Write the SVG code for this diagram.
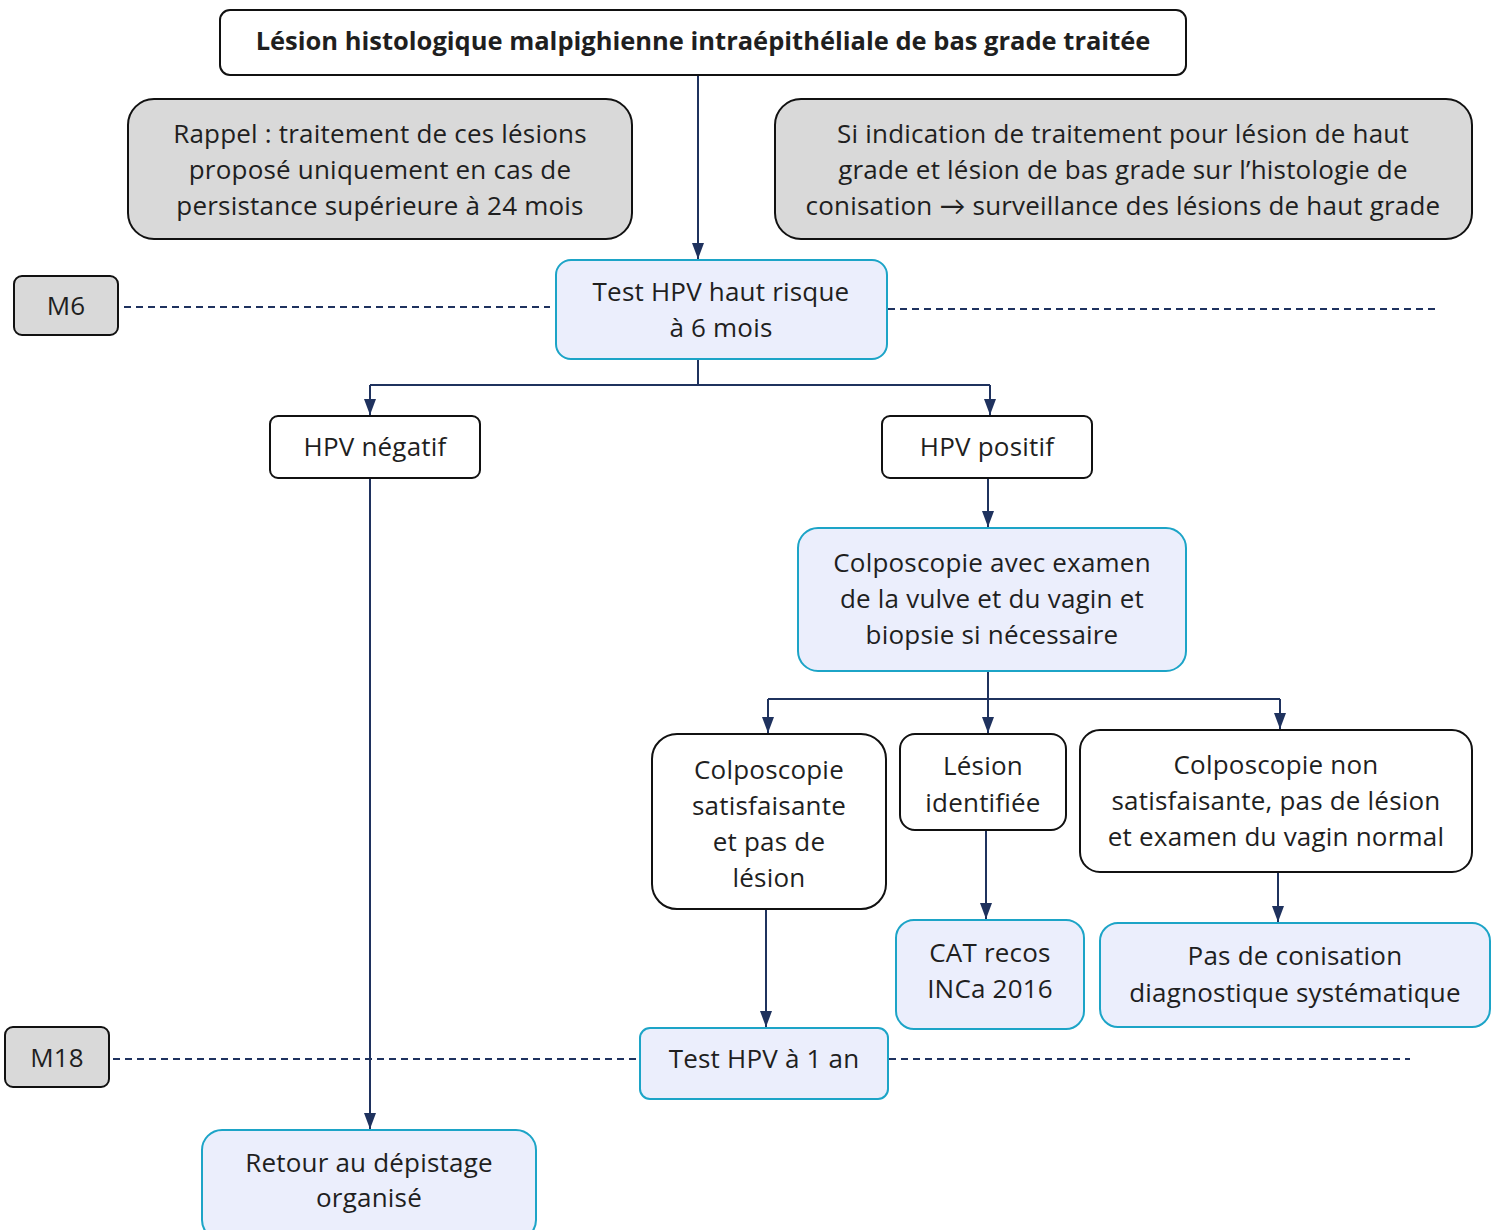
<svg xmlns="http://www.w3.org/2000/svg" width="1502" height="1230" viewBox="0 0 1502 1230">
  <defs>
    <marker id="arrow" viewBox="0 0 16 12" refX="16" refY="6" markerWidth="16" markerHeight="12" markerUnits="userSpaceOnUse" orient="auto">
      <path d="M0,0 L16,6 L0,12 z" fill="#1f325e"/>
    </marker>
    <style>
      text { font-family: "Open Sans", "Liberation Sans", sans-serif; font-size: 26px; letter-spacing: 0.2px; fill: #1f1f1f; text-anchor: middle; dominant-baseline: central; }
      .title { font-weight: 700; font-size: 25.5px; letter-spacing: 0; }
      .sym { font-family: "Lato", "DejaVu Sans", sans-serif; }
      .plain { fill: #ffffff; stroke: #111111; stroke-width: 2; }
      .note { fill: #d9d9d9; stroke: #111111; stroke-width: 2; }
      .step { fill: #ebeefc; stroke: #1ca4c7; stroke-width: 2; }
      .link { fill: none; stroke: #1f325e; stroke-width: 2; }
      .arr { marker-end: url(#arrow); }
      .dash { fill: none; stroke: #1f325e; stroke-width: 2; stroke-dasharray: 7 5; }
    </style>
  </defs>
  <rect width="1502" height="1230" fill="#ffffff"/>

  <g id="connectors">
    <line class="dash" x1="124" y1="307" x2="550" y2="307"/>
    <line class="dash" x1="888" y1="309" x2="1440" y2="309"/>
    <line class="dash" x1="113" y1="1059" x2="640" y2="1059"/>
    <line class="dash" x1="889" y1="1059" x2="1410" y2="1059"/>
    <line class="link arr" x1="698" y1="75" x2="698" y2="259"/>
    <path class="link" d="M698,359 V385 M370,385 H990"/>
    <line class="link arr" x1="370" y1="385" x2="370" y2="415"/>
    <line class="link arr" x1="990" y1="385" x2="990" y2="415"/>
    <line class="link arr" x1="988" y1="478" x2="988" y2="527"/>
    <path class="link" d="M988,671 V699 M768,699 H1280"/>
    <line class="link arr" x1="768" y1="699" x2="768" y2="733"/>
    <line class="link arr" x1="988" y1="699" x2="988" y2="733"/>
    <line class="link arr" x1="1280" y1="699" x2="1280" y2="729"/>
    <line class="link arr" x1="986" y1="830" x2="986" y2="919"/>
    <line class="link arr" x1="1278" y1="870" x2="1278" y2="922"/>
    <line class="link arr" x1="766" y1="909" x2="766" y2="1027"/>
    <line class="link arr" x1="370" y1="478" x2="370" y2="1129"/>
  </g>

  <g id="title">
    <rect class="plain" x="220" y="10" width="966" height="65" rx="10"/>
    <text class="title" x="703" y="40">Lésion histologique malpighienne intraépithéliale de bas grade traitée</text>
  </g>

  <g id="rappel">
    <rect class="note" x="128" y="99" width="504" height="140" rx="26"/>
    <text x="380" y="133">Rappel : traitement de ces lésions</text>
    <text x="380" y="169">proposé uniquement en cas de</text>
    <text x="380" y="205">persistance supérieure à 24 mois</text>
  </g>

  <g id="indication">
    <rect class="note" x="775" y="99" width="697" height="140" rx="26"/>
    <text x="1123" y="133">Si indication de traitement pour lésion de haut</text>
    <text x="1123" y="169">grade et lésion de bas grade sur l’histologie de</text>
    <text x="1123" y="205">conisation <tspan class="sym">→</tspan> surveillance des lésions de haut grade</text>
  </g>

  <g id="m6">
    <rect class="note" x="14" y="276" width="104" height="59" rx="8"/>
    <text x="66" y="305">M6</text>
  </g>

  <g id="test-6-mois">
    <rect class="step" x="556" y="260" width="331" height="99" rx="15"/>
    <text x="721" y="291">Test HPV haut risque</text>
    <text x="721" y="327">à 6 mois</text>
  </g>

  <g id="hpv-negatif">
    <rect class="plain" x="270" y="416" width="210" height="62" rx="8"/>
    <text x="375" y="446">HPV négatif</text>
  </g>

  <g id="hpv-positif">
    <rect class="plain" x="882" y="416" width="210" height="62" rx="8"/>
    <text x="987" y="446">HPV positif</text>
  </g>

  <g id="colposcopie">
    <rect class="step" x="798" y="528" width="388" height="143" rx="20"/>
    <text x="992" y="562">Colposcopie avec examen</text>
    <text x="992" y="598">de la vulve et du vagin et</text>
    <text x="992" y="634">biopsie si nécessaire</text>
  </g>

  <g id="colpo-satisfaisante">
    <rect class="plain" x="652" y="734" width="234" height="175" rx="25"/>
    <text x="769" y="769">Colposcopie</text>
    <text x="769" y="805">satisfaisante</text>
    <text x="769" y="841">et pas de</text>
    <text x="769" y="877">lésion</text>
  </g>

  <g id="lesion-identifiee">
    <rect class="plain" x="900" y="734" width="166" height="96" rx="15"/>
    <text x="983" y="765">Lésion</text>
    <text x="983" y="802">identifiée</text>
  </g>

  <g id="colpo-non-satisfaisante">
    <rect class="plain" x="1080" y="730" width="392" height="142" rx="20"/>
    <text x="1276" y="764">Colposcopie non</text>
    <text x="1276" y="800">satisfaisante, pas de lésion</text>
    <text x="1276" y="836">et examen du vagin normal</text>
  </g>

  <g id="cat-recos">
    <rect class="step" x="896" y="920" width="188" height="109" rx="18"/>
    <text x="990" y="952">CAT recos</text>
    <text x="990" y="988">INCa 2016</text>
  </g>

  <g id="pas-de-conisation">
    <rect class="step" x="1100" y="923" width="390" height="104" rx="18"/>
    <text x="1295" y="955">Pas de conisation</text>
    <text x="1295" y="992">diagnostique systématique</text>
  </g>

  <g id="m18">
    <rect class="note" x="5" y="1027" width="104" height="60" rx="8"/>
    <text x="57" y="1057">M18</text>
  </g>

  <g id="test-1-an">
    <rect class="step" x="640" y="1028" width="248" height="71" rx="10"/>
    <text x="764" y="1058">Test HPV à 1 an</text>
  </g>

  <g id="retour-depistage">
    <rect class="step" x="202" y="1130" width="334" height="110" rx="20"/>
    <text x="369" y="1162">Retour au dépistage</text>
    <text x="369" y="1197">organisé</text>
  </g>
</svg>
